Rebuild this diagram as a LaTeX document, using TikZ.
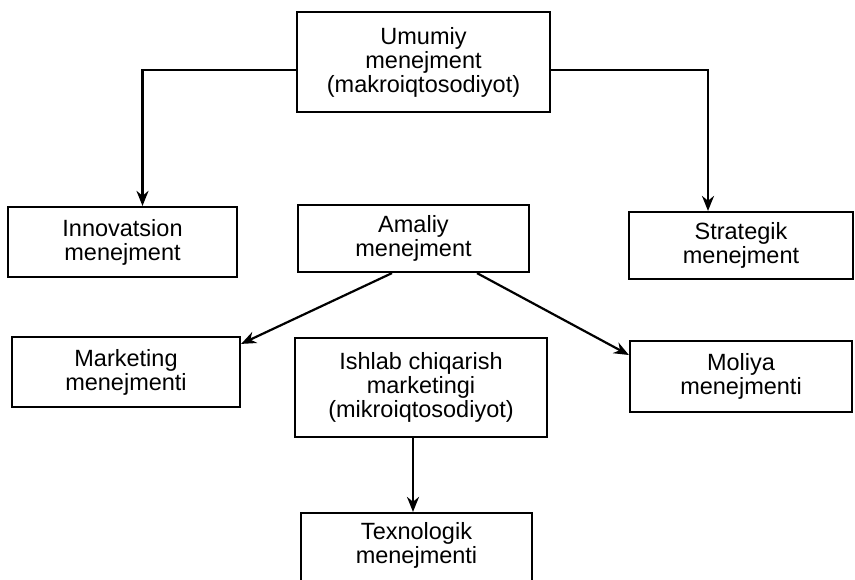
\documentclass[tikz,border=0pt]{standalone}
\usepackage{fontspec}
\setmainfont{Liberation Sans}
\usetikzlibrary{arrows.meta}
\begin{document}
\begin{tikzpicture}[x=1pt,y=-1pt,
  box/.style={draw, line width=2.2pt, inner sep=0pt, align=center,
    font=\fontsize{23.5}{24}\selectfont, anchor=center},
  arr/.style={line width=2.2pt, -{Stealth[length=15pt,width=12pt]}}]
\useasboundingbox[fill=white] (0,0) rectangle (855,579);
\node[box, minimum width=253pt, minimum height=100pt] (top) at (423.5,62) {Umumiy\\menejment\\(makroiqtosodiyot)};
\node[box, minimum width=229pt, minimum height=70pt] (innov) at (122.5,242) {Innovatsion\\menejment};
\node[box, minimum width=231pt, minimum height=67pt] (amaliy) at (413.5,238.5) {Amaliy\\menejment};
\node[box, minimum width=224pt, minimum height=67pt] (strat) at (741,245.5) {Strategik\\menejment};
\node[box, minimum width=228pt, minimum height=70pt] (market) at (126,372) {Marketing\\menejmenti};
\node[box, minimum width=252pt, minimum height=99pt] (ishlab) at (421,387.5) {Ishlab chiqarish\\marketingi\\(mikroiqtosodiyot)};
\node[box, minimum width=222pt, minimum height=71pt] (moliya) at (741,376.5) {Moliya\\menejmenti};
\node[box, minimum width=231pt, minimum height=86pt] (texno) at (416.5,556) {Texnologik\\menejmenti\\[2pt]};
\draw[arr] ([yshift=-8pt]top.west) -| ([xshift=20pt]innov.north);
\draw[arr] ([yshift=-8pt]top.east) -| ([xshift=-33pt]strat.north);
\draw[arr] ([xshift=-21.5pt]amaliy.south) -- ([yshift=-8pt]market.north east);
\draw[arr] ([xshift=63.5pt]amaliy.south) -- ([yshift=21.5pt]moliya.west);
\draw[arr] ([xshift=-8pt]ishlab.south) -- ([xshift=-3.5pt]texno.north);
\end{tikzpicture}
\end{document}
